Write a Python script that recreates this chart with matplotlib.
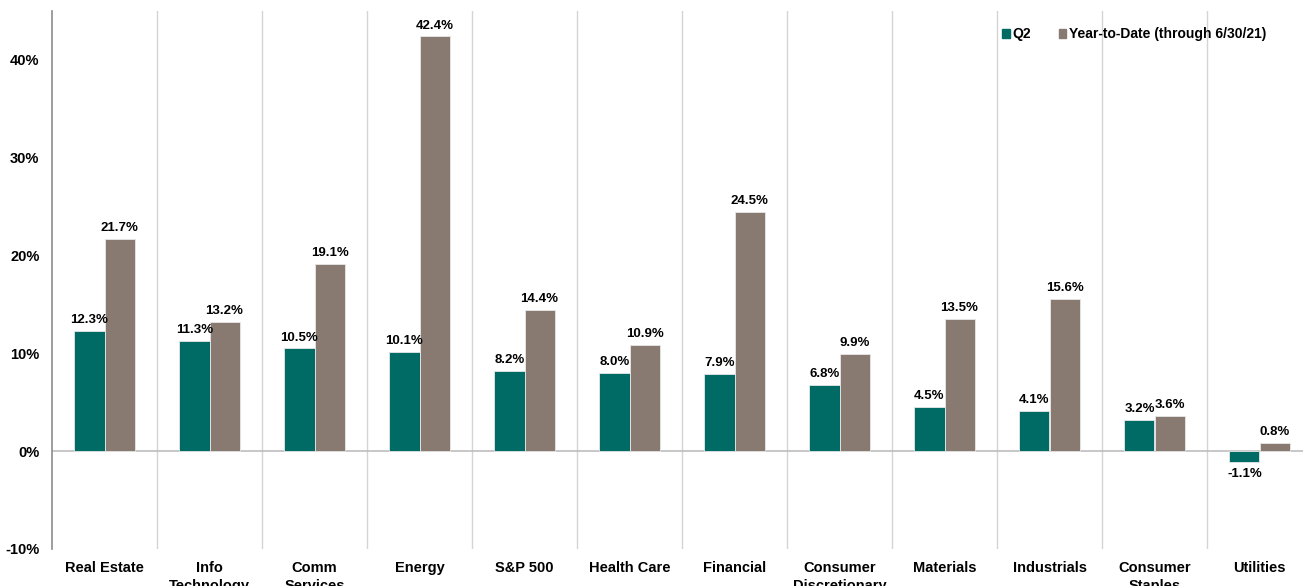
import numpy as np
import matplotlib
matplotlib.use("Agg")
import matplotlib.pyplot as plt
from matplotlib.patches import Patch

plt.rcParams['font.family'] = ['Liberation Sans', 'DejaVu Sans']

categories = ["Real Estate", "Info\nTechnology", "Comm\nServices", "Energy", "S&P 500",
              "Health Care", "Financial", "Consumer\nDiscretionary", "Materials",
              "Industrials", "Consumer\nStaples", "Utilities"]
q2 = [12.3, 11.3, 10.5, 10.1, 8.2, 8.0, 7.9, 6.8, 4.5, 4.1, 3.2, -1.1]
ytd = [21.7, 13.2, 19.1, 42.4, 14.4, 10.9, 24.5, 9.9, 13.5, 15.6, 3.6, 0.8]
series_names = ["Q2", "Year-to-Date (through 6/30/21)"]
yticks = [-10, 0, 10, 20, 30, 40]

teal = "#006b64"
taupe = "#887a70"

fig = plt.figure(figsize=(13.03, 5.86), dpi=100)
ax = fig.add_axes([52/1303, 37/586, 1260/1303, 538/586])

x = np.arange(len(categories))
w = 0.286
b1 = ax.bar(x - w/2, q2, w, color=teal, edgecolor="#e8e8e8", linewidth=0.6, zorder=3)
b2 = ax.bar(x + w/2, ytd, w, color=taupe, edgecolor="#e8e8e8", linewidth=0.6, zorder=3)

for bars, vals in [(b1, q2), (b2, ytd)]:
    for r, v in zip(bars, vals):
        cx = r.get_x() + r.get_width() / 2
        if v >= 0:
            ax.text(cx, v + 0.5, f"{v:.1f}%", ha="center", va="bottom",
                    fontsize=9.5, fontweight="bold", zorder=4)
        else:
            ax.text(cx, v - 0.6, f"{v:.1f}%", ha="center", va="top",
                    fontsize=9.5, fontweight="bold", zorder=4)

# separators between categories
for i in range(len(categories) - 1):
    ax.axvline(i + 0.5, color="#d4d4d4", linewidth=1, zorder=1)
ax.axhline(0, color="#bdbdbd", linewidth=1.2, zorder=2)

ax.set_xlim(-0.5, len(categories) - 0.5)
ax.set_ylim(-10, 45)
ax.set_yticks(yticks)
ax.set_yticklabels([f"{t}%" for t in yticks], fontsize=10.5, fontweight="bold")
ax.set_xticks(x)
ax.set_xticklabels(categories, fontsize=10.5, fontweight="bold", linespacing=1.4)
ax.tick_params(axis="both", length=0)
ax.tick_params(axis="x", pad=8.5)
ax.tick_params(axis="y", pad=9)

for s in ["top", "right", "bottom"]:
    ax.spines[s].set_visible(False)
ax.spines["left"].set_color("#8c8c8c")
ax.spines["left"].set_linewidth(1.2)

handles = [Patch(color=teal), Patch(color=taupe)]
leg = ax.legend(handles, series_names, loc="upper left", bbox_to_anchor=(0.744, 0.993),
                ncol=2, frameon=False, handlelength=0.55, handleheight=0.55,
                handletextpad=0.2, columnspacing=2.0,
                prop={"weight": "bold", "size": 10})

fig.savefig("out.png", dpi=100)
